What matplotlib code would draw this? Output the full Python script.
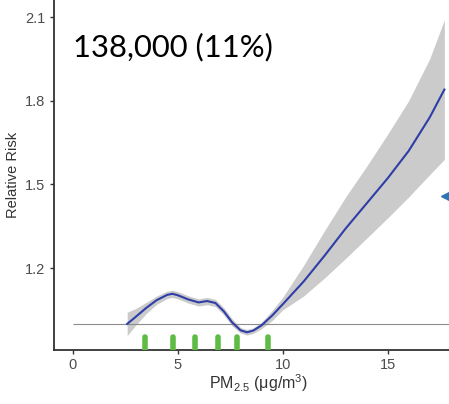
import matplotlib
matplotlib.use("Agg")
import matplotlib.pyplot as plt

plt.rcParams["font.family"] = ["Liberation Sans", "DejaVu Sans"]
plt.rcParams["mathtext.fontset"] = "custom"
plt.rcParams["mathtext.rm"] = "Liberation Sans"

# smooth fit of relative risk vs PM2.5
pm = [2.6, 3.0, 3.5, 4.0, 4.5, 4.75, 5.0, 5.5, 6.0, 6.4, 6.8, 7.2, 7.6, 8.0,
      8.3, 8.6, 9.0, 9.5, 10, 11, 12, 13, 14, 15, 16, 17, 17.7]
rr = [1.00, 1.025, 1.057, 1.085, 1.104, 1.108, 1.103, 1.088, 1.077, 1.082,
      1.075, 1.045, 1.005, 0.977, 0.970, 0.976, 0.995, 1.03, 1.07, 1.152,
      1.245, 1.342, 1.432, 1.522, 1.62, 1.74, 1.84]
rr_lo = [0.958, 0.995, 1.037, 1.07, 1.091, 1.095, 1.09, 1.075, 1.064, 1.069,
         1.062, 1.032, 0.992, 0.967, 0.960, 0.966, 0.983, 1.012, 1.05, 1.10,
         1.165, 1.235, 1.307, 1.38, 1.455, 1.535, 1.59]
rr_hi = [1.042, 1.055, 1.077, 1.10, 1.117, 1.121, 1.116, 1.101, 1.090, 1.095,
         1.088, 1.058, 1.018, 0.987, 0.980, 0.986, 1.007, 1.048, 1.095, 1.21,
         1.335, 1.455, 1.565, 1.68, 1.80, 1.95, 2.09]

# rug marks (green)
rug_x = [3.43, 4.79, 5.84, 6.92, 7.81, 9.31]

x_ticks = [0, 5, 10, 15]
y_ticks = [1.2, 1.5, 1.8, 2.1]
annotation = "138,000 (11%)"

fig = plt.figure(figsize=(4.49, 4.04), dpi=100)
ax = fig.add_axes([0.12, 0.134, 0.88, 0.866])

ax.fill_between(pm, rr_lo, rr_hi, color="#cbcbcb", linewidth=0, zorder=1)
ax.hlines(1.0, 0, 20, color="#8c8c8c", linewidth=0.8, zorder=2)
ax.plot(pm, rr, color="#2f3ea6", linewidth=1.5, zorder=3)
ax.vlines(rug_x, 0.9, 0.954, color="#5dbb46", linewidth=4,
          capstyle="round", zorder=4)

ax.set_xlim(-0.89, 17.92)
ax.set_ylim(0.907, 2.161)
ax.set_xticks(x_ticks)
ax.set_yticks(y_ticks)
ax.set_yticklabels([f"{v:.1f}" for v in y_ticks])

for s in ["top", "right"]:
    ax.spines[s].set_visible(False)
for s in ["left", "bottom"]:
    ax.spines[s].set_color("#333333")
    ax.spines[s].set_linewidth(1.3)
ax.tick_params(direction="out", length=3, width=1, color="#333333",
               labelcolor="#4d4d4d", labelsize=10.5, pad=3)

ax.set_ylabel("Relative Risk", fontsize=10.5, color="#333333", labelpad=4)
ax.set_xlabel(r"PM$_{\mathregular{2.5}}$ ($\mathregular{\mu}$g/m$^{\mathregular{3}}$)",
              fontsize=11.5, color="#333333")
ax.xaxis.set_label_coords(0.519, -0.064)

fig.text(0.163, 0.883, annotation, fontsize=22.3, family=["Lato", "DejaVu Sans"],
         color="black", va="center", ha="left")

# cut-off arrow head from the slide at the right edge
fig.add_artist(plt.Line2D([0.992], [0.515], marker="<", markersize=6,
                          color="#2e75b6", transform=fig.transFigure))

fig.savefig("out.png", dpi=100)
